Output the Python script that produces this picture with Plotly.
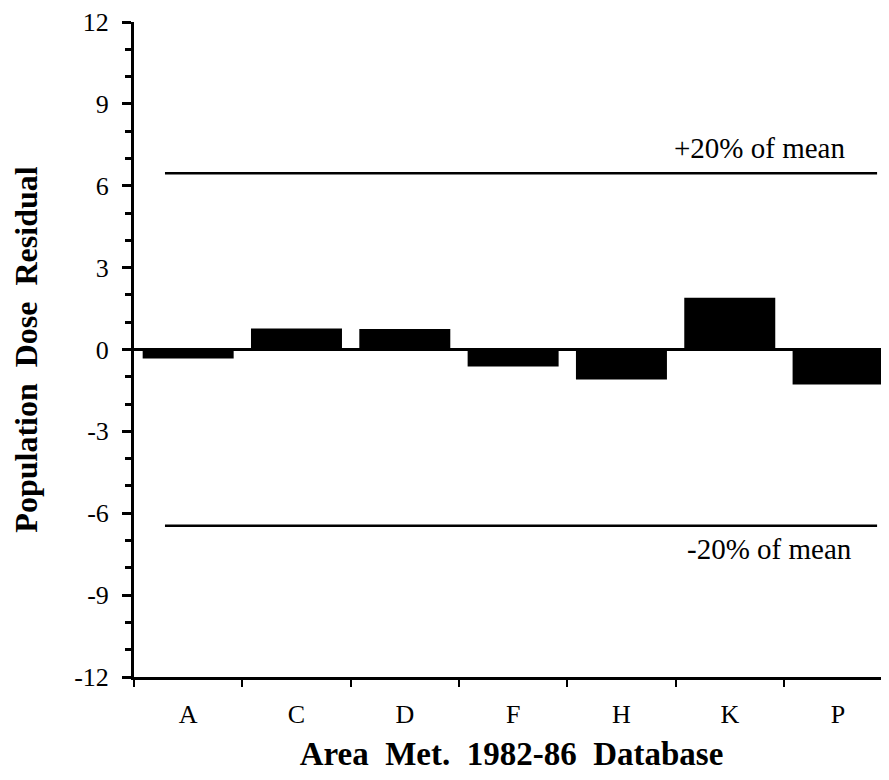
import plotly.graph_objects as go

categories = ["A", "C", "D", "F", "H", "K", "P"]
residuals = [-0.33, 0.77, 0.75, -0.62, -1.1, 1.9, -1.28]
plus20 = 6.46
minus20 = -6.46
y_ticks = [-12, -9, -6, -3, 0, 3, 6, 9, 12]

serif = "Liberation Serif, Times New Roman, serif"

fig = go.Figure()
fig.add_trace(go.Bar(x=categories, y=residuals, marker_color="black",
                     marker_line_width=0, width=0.84))

for val in (plus20, minus20):
    fig.add_shape(type="line", xref="x", yref="y", x0=-0.214, x1=6.36,
                  y0=val, y1=val, line=dict(color="black", width=2.5))

fig.add_annotation(x=5.27, y=plus20, yshift=25, text="+20% of mean", showarrow=False,
                   xref="x", yref="y", font=dict(family=serif, size=29, color="black"))
fig.add_annotation(x=5.37, y=minus20, yshift=-23, text="-20% of mean", showarrow=False,
                   xref="x", yref="y", font=dict(family=serif, size=29, color="black"))

fig.update_layout(
    width=881, height=764,
    margin=dict(l=126, r=0, t=12, b=94),
    paper_bgcolor="white", plot_bgcolor="white",
    showlegend=False,
    xaxis=dict(
        type="category", range=[-0.5, 6.47],
        showline=True, linecolor="black", linewidth=3,
        ticks="outside", tickson="boundaries", ticklen=7, tickwidth=2, tickcolor="black",
        showgrid=False,
        ticklabelstandoff=12,
        tickfont=dict(family=serif, size=26, color="black"),
        title=dict(text="<b>Area\u00a0 Met.\u00a0 1982-86\u00a0 Database</b>",
                   font=dict(family=serif, size=33, color="black"), standoff=20),
    ),
    yaxis=dict(
        range=[-12, 12], tickvals=y_ticks,
        ticktext=[str(v) for v in y_ticks],
        showline=True, linecolor="black", linewidth=3,
        ticks="outside", ticklen=9, tickwidth=3, tickcolor="black",
        minor=dict(dtick=1, ticks="outside", ticklen=6, tickwidth=3, tickcolor="black"),
        showgrid=False,
        zeroline=True, zerolinecolor="black", zerolinewidth=2.5,
        ticklabelstandoff=8,
        ticklabeloverflow="allow",
        tickfont=dict(family=serif, size=26, color="black"),
        title=dict(text="<b>Population\u00a0 Dose\u00a0 Residual</b>",
                   font=dict(family=serif, size=32, color="black"), standoff=28),
    ),
)

fig.write_html("out.html")
